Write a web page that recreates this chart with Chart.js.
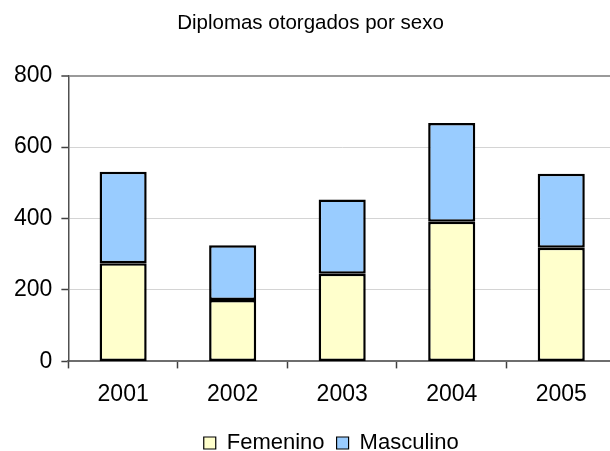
<!DOCTYPE html>
<html>
<head>
<meta charset="utf-8">
<script src="https://cdn.jsdelivr.net/npm/chart.js@4/dist/chart.umd.min.js"></script>
<style>
  html, body { margin: 0; padding: 0; background: #fff; overflow: hidden; }
  #wrap { width: 616px; height: 451px; }
</style>
</head>
<body>
<div id="wrap"><canvas id="c" width="616" height="451"></canvas></div>
<script>
// Diplomas awarded per year, split by sex
const years = ['2001', '2002', '2003', '2004', '2005'];
const femenino = [275, 172, 245, 391, 318];
const masculino = [256, 153, 208, 276, 207];
const yTicks = [0, 200, 400, 600, 800];

const FONT = "'Liberation Sans', Arial, sans-serif";

// nudge the legend a little to the left of the plot-area centre
const legendShift = {
  id: 'legendShift',
  afterLayout(chart) {
    const lg = chart.legend;
    if (lg) { lg.left -= 11; lg.right -= 11; }
  }
};

new Chart(document.getElementById('c'), {
  type: 'bar',
  data: {
    labels: years,
    datasets: [
      {
        label: 'Femenino',
        data: femenino,
        backgroundColor: '#FFFFCC',
        borderColor: '#000000',
        borderWidth: 2.5,
        borderSkipped: false,
        barPercentage: 0.43,
        categoryPercentage: 1
      },
      {
        label: 'Masculino',
        data: masculino,
        backgroundColor: '#99CCFF',
        borderColor: '#000000',
        borderWidth: 2.5,
        borderSkipped: false,
        barPercentage: 0.43,
        categoryPercentage: 1
      }
    ]
  },
  plugins: [legendShift],
  options: {
    responsive: false,
    animation: false,
    layout: { padding: { left: 5, right: 0, top: 0, bottom: -13 } },
    plugins: {
      tooltip: { enabled: false },
      title: {
        display: true,
        text: 'Diplomas otorgados por sexo',
        color: '#000',
        font: { family: FONT, size: 20.5, weight: 'normal' },
        padding: { top: 11, bottom: 40 }
      },
      legend: {
        position: 'bottom',
        fullSize: false,
        labels: {
          color: '#000',
          font: { family: FONT, size: 22 },
          boxWidth: 12,
          boxHeight: 12,
          padding: 12,
          generateLabels(chart) {
            return chart.data.datasets.map((ds, i) => ({
              text: ds.label,
              fillStyle: ds.backgroundColor,
              strokeStyle: '#000',
              lineWidth: 1.2,
              hidden: false,
              datasetIndex: i
            }));
          }
        }
      }
    },
    scales: {
      x: {
        stacked: true,
        grid: {
          offset: true,
          drawOnChartArea: false,
          drawTicks: true,
          tickLength: 7,
          tickColor: '#404040',
          tickWidth: 1.5
        },
        border: { display: true, color: '#6e6e6e', width: 2 },
        ticks: {
          color: '#000',
          font: { family: FONT, size: 23 },
          padding: 12
        }
      },
      y: {
        stacked: true,
        min: 0,
        max: 800,
        afterBuildTicks(scale) {
          scale.ticks = yTicks.map(v => ({ value: v }));
        },
        grid: {
          color: ctx => (ctx.tick && ctx.tick.value === 800) ? '#9a9a9a' : '#d4d4d4',
          lineWidth: ctx => (ctx.tick && ctx.tick.value === 800) ? 2 : 1,
          drawTicks: true,
          tickLength: 7,
          tickColor: '#404040',
          tickWidth: 1.5
        },
        border: { display: true, color: '#505050', width: 1.5 },
        ticks: {
          color: '#000',
          font: { family: FONT, size: 23 },
          padding: 9
        }
      }
    }
  }
});
</script>
</body>
</html>
